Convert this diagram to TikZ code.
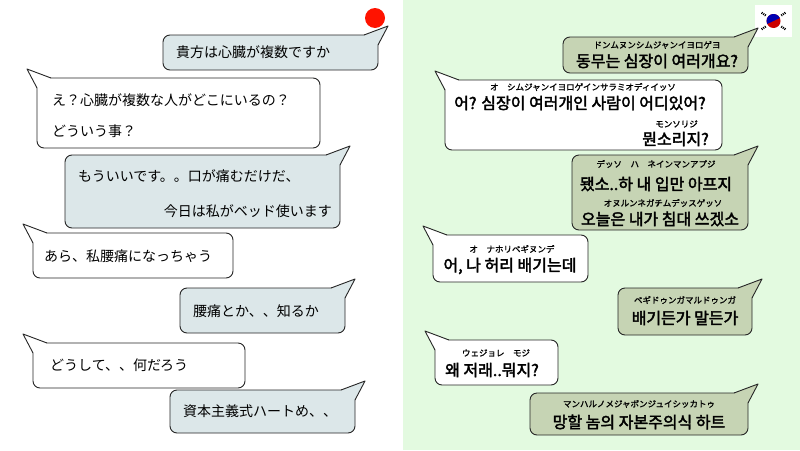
\documentclass[tikz,border=0pt]{standalone}
\usepackage{fontspec}
\newfontfamily\jp{Noto Sans CJK JP}
\newfontfamily\kr{Noto Sans CJK KR}[FakeBold=2.5]
\newfontfamily\jpb{Noto Sans CJK JP}[FakeBold=1.5]
\definecolor{lbub}{HTML}{DCE7E9}
\definecolor{rbub}{HTML}{C6D4B4}
\definecolor{rbg}{HTML}{E3FAE0}
\tikzset{bline/.style={draw=black!85,line width=0.9pt},
 jtxt/.style={font=\jp\fontsize{14}{16}\selectfont,anchor=west,inner sep=0},
 ktxt/.style={font=\kr\fontsize{16}{18}\selectfont,inner sep=0},
 rtxt/.style={font=\jpb\fontsize{8.5}{9}\selectfont,inner sep=0}}
\newcommand{\bubR}[5]{% x1 y1 x2 y2 fill ; tail top right
 \draw[bline,fill=#5,rounded corners=7pt] (#1,#2) rectangle (#3,#4);
 \fill[#5] (#3-14,#2+0.5) -- (#3+10,#2-9) -- (#3-0.5,#2+10) -- (#3-6,#2+4) -- cycle;
 \draw[bline,line join=round] (#3-14,#2) -- (#3+10,#2-9) -- (#3,#2+10);}
\newcommand{\bubL}[5]{% tail top left
 \draw[bline,fill=#5,rounded corners=7pt] (#1,#2) rectangle (#3,#4);
 \fill[#5] (#1+14,#2+0.5) -- (#1-10,#2-9) -- (#1+0.5,#2+10) -- (#1+6,#2+4) -- cycle;
 \draw[bline,line join=round] (#1+14,#2) -- (#1-10,#2-9) -- (#1,#2+10);}
\begin{document}
\begin{tikzpicture}[x=1pt,y=-1pt]
\useasboundingbox (0,0) rectangle (800,450);
\fill[white] (0,0) rectangle (403,450);
\fill[rbg] (403,0) rectangle (800,450);
\fill[red!85!orange] (375,18) circle (10);
% flag
\fill[white] (755,5) rectangle (792,37);
\fill[red!80!black] (773.5,21) circle (7);
\fill[blue!70!black] (773.5,21) ++(-25:7) arc[start angle=-25,end angle=-205,radius=7] -- cycle;
\foreach \a in {35,145,215,325}{\draw[black,line width=2.2pt,dash pattern=on 1pt off 1pt] (773.5,21) ++(\a:9.5) -- ++(\a:5);}
% left
\bubR{163}{35}{378}{70}{lbub}
\node[jtxt] (l1) at (176,52) {貴方は心臓が複数ですか};
\bubL{37}{78}{320}{148}{white}
\node[jtxt] (l2a) at (52,100) {え？心臓が複数な人がどこにいるの？};
\node[jtxt] (l2b) at (52,131) {どういう事？};
\bubR{65}{155}{340}{228}{lbub}
\node[jtxt] (l3a) at (78,176) {もういいです。。口が痛むだけだ、};
\node[jtxt,anchor=east] (l3b) at (332,211) {今日は私がベッド使います};
\bubL{33}{233}{233}{278}{white}
\node[jtxt] (l4) at (44,256) {あら、私腰痛になっちゃう};
\bubR{180}{288}{345}{333}{lbub}
\node[jtxt] (l5) at (193,311) {腰痛とか、、知るか};
\bubL{33}{343}{245}{388}{white}
\node[jtxt] (l6) at (50,365) {どうして、、何だろう};
\bubR{170}{390}{355}{433}{lbub}
\node[jtxt] (l7) at (183,411) {資本主義式ハートめ、、};
% right
\bubR{563}{37}{748}{73}{rbub}
\node[rtxt] (r1r) at (657,45) {ドンムヌンシムジャンイヨロゲヨ};
\node[ktxt] (r1) at (657,61) {동무는 심장이 여러개요?};
\bubL{445}{80}{722}{150}{white}
\node[rtxt] (r2r) at (583,87) {オ　シムジャンイヨロゲインサラミオディイッソ};
\node[ktxt] (r2) at (580,103) {어? 심장이 여러개인 사람이 어디있어?};
\node[rtxt,anchor=east] (r2r2) at (698,124) {モンソリジ};
\node[ktxt,anchor=east] (r2b) at (709,139) {뭔소리지?};
\bubR{572}{155}{748}{230}{rbub}
\node[rtxt] (r3r) at (656,164) {デッソ　ハ　ネインマンアプジ};
\node[ktxt] (r3) at (656,184) {됐소..하  내 입만 아프지};
\node[rtxt] (r3r2) at (663,203) {オヌルンネガチムデッスゲッソ};
\node[ktxt] (r3b) at (660,219) {오늘은 내가 침대 쓰겠소};
\bubL{433}{235}{588}{282}{white}
\node[rtxt] (r4r) at (512,249) {オ　ナホリベギヌンデ};
\node[ktxt] (r4) at (510,266) {어, 나 허리 배기는데};
\bubR{618}{288}{752}{335}{rbub}
\node[rtxt] (r5r) at (685,300) {ベギドゥンガマルドゥンガ};
\node[ktxt] (r5) at (685,318) {배기든가 말든가};
\bubL{435}{340}{558}{385}{white}
\node[rtxt] (r6r) at (496,353) {ウェジョレ　モジ};
\node[ktxt] (r6) at (492,370) {왜 저래..뭐지?};
\bubR{530}{393}{748}{435}{rbub}
\node[rtxt] (r7r) at (639,404) {マンハルノメジャボンジュイシッカトゥ};
\node[ktxt] (r7) at (639,422) {망할 놈의 자본주의식 하트};
\end{tikzpicture}
\end{document}
